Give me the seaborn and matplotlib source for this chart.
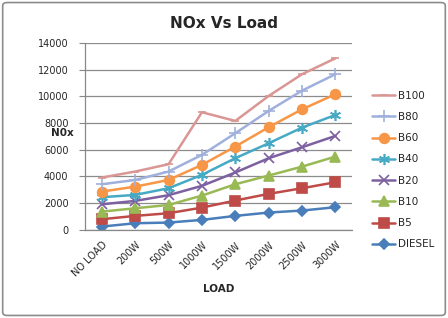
import pandas as pd
import seaborn as sns
import matplotlib.pyplot as plt
from matplotlib.patches import FancyBboxPatch

# values
loads = ['NO LOAD', '200W', '500W', '1000W', '1500W', '2000W', '2500W', '3000W']
diesel = [250, 500, 550, 750, 1050, 1300, 1450, 1700]
b5 = [800, 1050, 1250, 1670, 2200, 2700, 3120, 3570]
b10 = [1370, 1620, 1870, 2570, 3420, 4070, 4740, 5490]
b20 = [1920, 2170, 2600, 3300, 4300, 5370, 6190, 7040]
b40 = [2450, 2620, 3120, 4120, 5370, 6490, 7660, 8610]
b60 = [2870, 3240, 3740, 4870, 6240, 7690, 9030, 10160]
b80 = [3420, 3740, 4370, 5620, 7240, 8910, 10430, 11660]
b100 = [3920, 4370, 4920, 8810, 8160, 10030, 11660, 12850]

series = {'DIESEL': diesel, 'B5': b5, 'B10': b10, 'B20': b20,
          'B40': b40, 'B60': b60, 'B80': b80, 'B100': b100}

rows = []
for name, vals in series.items():
    for i, v in enumerate(vals):
        rows.append({'pos': i, 'load': loads[i], 'NOx': v, 'fuel': name})
df = pd.DataFrame(rows)

palette = {'DIESEL': '#4A7EBB', 'B5': '#BE4B48', 'B10': '#98B954', 'B20': '#7D60A0',
           'B40': '#46AAC5', 'B60': '#F79646', 'B80': '#A0B0DC', 'B100': '#D99694'}
markers = {'DIESEL': 'D', 'B5': 's', 'B10': '^', 'B20': 'x',
           'B40': (6, 2, 0), 'B60': 'o', 'B80': '+', 'B100': '_'}
msize = {'DIESEL': 5, 'B5': 7, 'B10': 7, 'B20': 7,
         'B40': 8, 'B60': 7, 'B80': 8, 'B100': 6}

sns.set_style('white')
plt.rcParams['font.family'] = ['DejaVu Sans']

fig = plt.figure(figsize=(4.48, 3.18), dpi=100)
ax = fig.add_axes([0.19, 0.277, 0.596, 0.588])

for name in series:
    sub = df[df['fuel'] == name]
    sns.lineplot(data=sub, x='pos', y='NOx', ax=ax, color=palette[name],
                 marker=markers[name], markersize=msize[name], linewidth=1.8,
                 markeredgecolor=palette[name], markeredgewidth=1.2, label=name)

ax.set_xlim(-0.5, 7.5)
ax.set_ylim(0, 14000)
ax.set_yticks(range(0, 14001, 2000))
ax.set_yticklabels([str(t) for t in range(0, 14001, 2000)], fontsize=7)
ax.set_xticks(range(len(loads)))
ax.set_xticklabels(loads, rotation=45, ha='right', rotation_mode='anchor', fontsize=7)
ax.tick_params(axis='x', length=0, pad=7)
ax.set_xticks([i - 0.5 for i in range(len(loads) + 1)], minor=True)
ax.tick_params(axis='x', which='minor', length=4, color='#888888')
ax.tick_params(axis='y', length=4, color='#888888', direction='out', left=True, pad=8)
ax.yaxis.grid(True, color='#8c8c8c', linewidth=0.9)
ax.set_axisbelow(True)
for s in ['top', 'right']:
    ax.spines[s].set_visible(False)
for s in ['left', 'bottom']:
    ax.spines[s].set_color('#888888')
    ax.spines[s].set_linewidth(0.9)

ax.set_xlabel('LOAD', fontsize=7.5, fontweight='bold', labelpad=4)
ax.set_ylabel('')
fig.text(62 / 448, 1 - 133 / 318, 'N0x', ha='center', va='center', fontsize=7.5, fontweight='bold')
fig.text(0.5, 0.925, 'NOx Vs Load', ha='center', va='center', fontsize=11, fontweight='bold')

handles, labels = ax.get_legend_handles_labels()
leg = ax.legend(handles[::-1], labels[::-1], loc='center left', bbox_to_anchor=(1.04, 0.32),
                frameon=False, fontsize=7.5, labelspacing=1.08, handlelength=2.2,
                handletextpad=0.3)

border = FancyBboxPatch((0.006, 0.008), 0.988, 0.984, boxstyle='round,pad=0,rounding_size=0.01',
                        transform=fig.transFigure, fill=False, edgecolor='#8c8c8c', linewidth=1.2)
fig.patches.append(border)

fig.savefig('out.png', dpi=100)
